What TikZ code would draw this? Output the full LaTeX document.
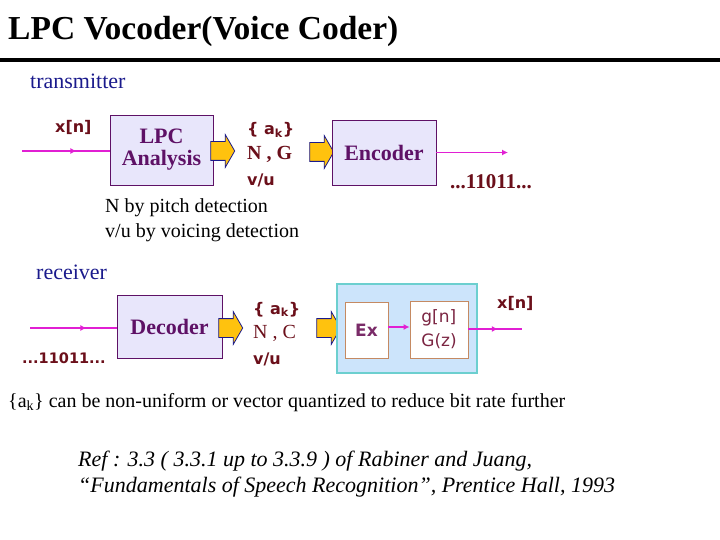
\documentclass[tikz,border=0pt]{standalone}
\usepackage{fontspec}
\setmainfont{Liberation Serif}
\newfontfamily\labfont{DejaVu Sans}
\usetikzlibrary{arrows.meta,positioning,shapes.arrows,decorations.markings}

\definecolor{labred}{HTML}{6B0F1A}
\definecolor{boxpurple}{HTML}{5E1166}
\definecolor{boxfill}{HTML}{E8E6FB}
\definecolor{sigpink}{HTML}{E11FD3}
\definecolor{gold}{HTML}{FFC20E}
\definecolor{navyblue}{HTML}{1A1A8C}
\definecolor{synthfill}{HTML}{CCE4FB}
\definecolor{synthline}{HTML}{6CCFCF}
\definecolor{exline}{HTML}{C58A62}
\definecolor{extext}{HTML}{7A2B68}
\definecolor{gtext}{HTML}{7B2542}

\tikzset{
  procbox/.style={draw=boxpurple, fill=boxfill, text=boxpurple, align=center,
    inner sep=0pt, font=\bfseries\fontsize{22}{22}\selectfont},
  yarrow/.style={single arrow, draw=navyblue, fill=gold, line width=0.8pt,
    minimum height=24pt, text height=0pt, text depth=0pt, inner xsep=0pt,
    inner ysep=9pt, single arrow head extend=7pt, single arrow tip angle=120},
  sig/.style={draw=sigpink, line width=1.5pt},
  midarr/.style={postaction={decorate}, decoration={markings,
    mark=at position #1 with {\arrow{Latex[length=6pt,width=6pt]}}}},
  sanslab/.style={anchor=base west, inner sep=0pt, text=labred,
    font=\labfont\bfseries\fontsize{16}{16}\selectfont},
  seriflab/.style={anchor=base west, inner sep=0pt, font=\fontsize{20}{20}\selectfont},
  section/.style={anchor=base west, inner sep=0pt, text=navyblue,
    font=\fontsize{22}{22}\selectfont},
  innerbox/.style={draw=exline, fill=white, line width=0.8pt, inner sep=0pt}
}

\begin{document}
\begin{tikzpicture}[x=1pt,y=-1pt,>={Latex[length=6pt,width=6pt]}]
  \useasboundingbox (0,0) rectangle (720,540);

  % title
  \node[anchor=base west, inner sep=0pt, font=\bfseries\fontsize{33.5}{33.5}\selectfont]
    (title) at (8,40) {LPC Vocoder(Voice Coder)};
  \draw[line width=4pt] (0,60) -- (720,60);

  % transmitter
  \node[section] (tx) at (30,89) {transmitter};
  \node[procbox, minimum width=103pt, minimum height=70pt] (lpc) at (161.5,150) {LPC\\Analysis};
  \coordinate (xin) at (22,151);
  \draw[sig, midarr=0.62] (xin) -- (xin -| lpc.west);
  \node[sanslab] (xnin) at (55,133) {x[n]};
  \node[yarrow] (arr1) at (220,151) {};
  \node[sanslab] (ak1) at (247,135) {\{ a\textsubscript{k}\}};
  \node[seriflab, text=labred, font=\bfseries\fontsize{20}{20}\selectfont] (ng1) at (247,160) {N , G};
  \node[sanslab] (vu1) at (247,186) {v/u};
  \node[yarrow] (arr2) at (319,152) {};
  \node[procbox, minimum width=104pt, minimum height=65pt] (enc) at (384,152.5) {Encoder};
  \coordinate (bitsout) at (508,152.5);
  \draw[sig, ->] (enc) -- (bitsout);
  \node[seriflab, text=labred, font=\bfseries\fontsize{21}{21}\selectfont] (bits1) at (450,189) {...11011...};
  \node[seriflab] (pitch) at (105,213) {N by pitch detection};
  \node[seriflab] (voicing) at (105,237) {v/u by voicing detection};

  % receiver
  \node[section] (rx) at (36,279) {receiver};
  \node[procbox, minimum width=105pt, minimum height=63pt] (dec) at (169.5,326.5) {Decoder};
  \coordinate (bitsin) at (30,328);
  \draw[sig, midarr=0.65] (bitsin) -- (bitsin -| dec.west);
  \node[sanslab, font=\labfont\bfseries\fontsize{14.5}{14.5}\selectfont] (bits2) at (22,363) {...11011...};
  \node[yarrow] (arr3) at (228,328) {};
  \node[sanslab] (ak2) at (253,314) {\{ a\textsubscript{k}\}};
  \node[seriflab, text=labred] (ng2) at (253,338) {N , C};
  \node[sanslab] (vu2) at (253,364) {v/u};
  \node[yarrow] (arr4) at (326,328) {};

  % synthesis filter
  \node[draw=synthline, fill=synthfill, line width=1.2pt, minimum width=140pt,
    minimum height=89pt, inner sep=0pt] (synth) at (407,328.5) {};
  \node[innerbox, minimum width=43pt, minimum height=56pt, text=extext,
    font=\labfont\bfseries\fontsize{17}{17}\selectfont] (ex) at (366.5,330) {Ex};
  \node[innerbox, minimum width=58pt, minimum height=57pt, text=gtext, align=left,
    font=\labfont\fontsize{17}{24}\selectfont] (gz) at (439,329.5) {g[n]\\G(z)};
  \draw[sig, ->] (ex.east |- 0,327) -- (gz.west |- 0,327);
  \coordinate (xout) at (522,329);
  \draw[sig, midarr=0.55] (gz.east |- xout) -- (xout);
  \node[sanslab] (xnout) at (497,308) {x[n]};

  % notes
  \node[seriflab, font=\fontsize{20}{20}\selectfont] (note) at (8,407)
    {\{a\textsubscript{k}\} can be non-uniform or vector quantized to reduce bit rate further};
  \node[anchor=base west, inner sep=0pt, align=left, font=\itshape\fontsize{22}{26}\selectfont]
    (ref) at (78,492) {Ref : 3.3 ( 3.3.1 up to 3.3.9 ) of Rabiner and Juang,\\
    ``Fundamentals of Speech Recognition'', Prentice Hall, 1993};
\end{tikzpicture}
\end{document}
